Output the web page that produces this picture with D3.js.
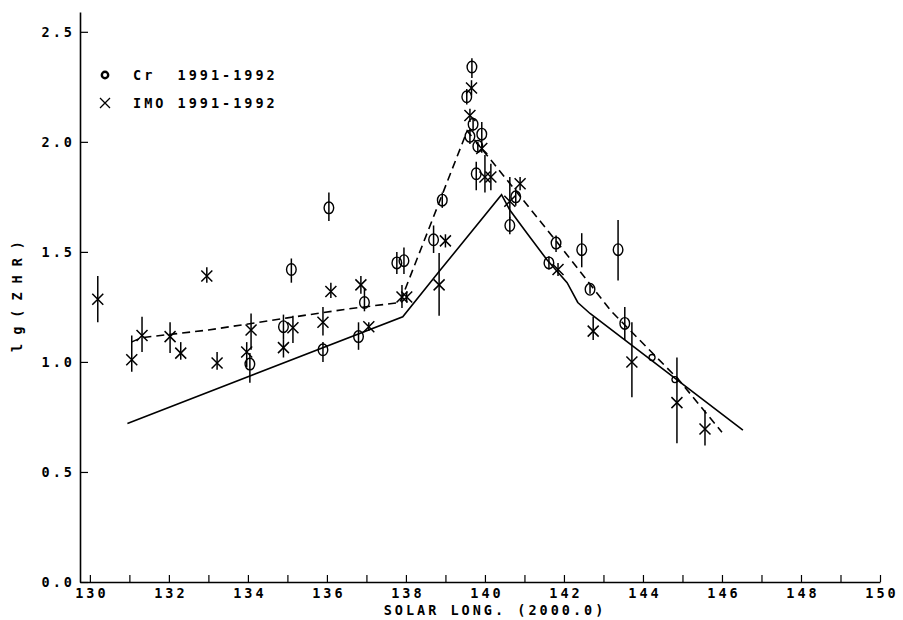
<!DOCTYPE html>
<html>
<head>
<meta charset="utf-8">
<script src="https://cdn.jsdelivr.net/npm/d3@7"></script>
<style>
  body { margin: 0; background: #fff; }
  text { font-family: "DejaVu Sans Mono", monospace; font-weight: bold; font-size: 13.5px; letter-spacing: 3px; fill: #000; white-space: pre; }
</style>
</head>
<body>
<div id="chart"></div>
<script>
// Cr 1991-1992: [solar long, lg ZHR, low, high]
const crPoints = [
  [134.05, 0.99, 0.905, 1.04], [134.9, 1.16, 1.10, 1.215], [135.1, 1.42, 1.36, 1.47],
  [135.9, 1.055, 1.0, 1.09], [136.05, 1.70, 1.64, 1.77], [136.8, 1.115, 1.055, 1.18],
  [136.95, 1.27, 1.23, 1.335], [137.77, 1.45, 1.40, 1.50], [137.95, 1.46, 1.40, 1.52],
  [138.7, 1.555, 1.495, 1.62], [138.92, 1.735, 1.70, 1.77], [139.54, 2.205, 2.17, 2.24],
  [139.67, 2.34, 2.29, 2.38], [139.62, 2.025, 1.99, 2.06], [139.7, 2.08, 2.05, 2.11],
  [139.78, 1.855, 1.78, 1.91], [139.82, 1.98, 1.95, 2.0], [139.92, 2.035, 1.98, 2.09],
  [140.63, 1.62, 1.58, 1.66], [140.78, 1.75, 1.71, 1.79], [141.62, 1.45, 1.42, 1.48],
  [141.8, 1.54, 1.50, 1.575], [142.45, 1.51, 1.43, 1.585], [142.66, 1.33, 1.31, 1.35],
  [143.37, 1.51, 1.37, 1.645], [143.54, 1.175, 1.10, 1.25]
];
// small circles without bars
const crSmall = [[144.23, 1.02], [144.81, 0.92]];

// IMO 1991-1992: [solar long, lg ZHR, low, high]
const imoPoints = [
  [130.2, 1.285, 1.18, 1.39], [131.06, 1.01, 0.955, 1.12], [131.32, 1.12, 1.045, 1.205],
  [132.03, 1.115, 1.04, 1.18], [132.3, 1.04, 1.01, 1.09], [132.96, 1.39, 1.36, 1.43],
  [133.22, 0.995, 0.965, 1.045], [133.97, 1.045, 0.975, 1.09], [134.08, 1.145, 1.055, 1.22],
  [134.9, 1.065, 1.02, 1.10], [135.14, 1.155, 1.086, 1.21], [135.9, 1.18, 1.12, 1.25],
  [136.1, 1.32, 1.29, 1.36], [136.86, 1.35, 1.31, 1.39], [137.06, 1.16, 1.14, 1.18],
  [137.9, 1.295, 1.245, 1.35], [138.02, 1.295, 1.27, 1.32], [138.84, 1.35, 1.21, 1.495],
  [139.0, 1.55, 1.52, 1.58], [139.62, 2.12, 2.09, 2.15], [139.66, 2.245, 2.21, 2.28],
  [139.92, 1.97, 1.95, 1.99], [140.0, 1.84, 1.77, 1.94], [140.15, 1.84, 1.78, 1.90],
  [140.63, 1.73, 1.65, 1.84], [140.89, 1.81, 1.78, 1.84], [141.85, 1.42, 1.39, 1.45],
  [142.74, 1.14, 1.10, 1.205], [143.72, 1.0, 0.84, 1.18], [144.86, 0.815, 0.63, 1.02],
  [145.57, 0.695, 0.62, 0.78]
];

// model curves
const solidLine = [
  [130.95, 0.72], [137.92, 1.205], [138.86, 1.415], [140.42, 1.76], [140.63, 1.69],
  [141.06, 1.586], [141.57, 1.464], [142.08, 1.36], [142.35, 1.27], [142.66, 1.22], [146.53, 0.69]
];
const dashedLine = [
  [131.05, 1.09], [131.3, 1.11], [133.0, 1.145], [135.0, 1.2], [136.5, 1.24], [137.85, 1.27],
  [139.55, 2.05], [140.5, 1.84], [141.8, 1.55], [143.2, 1.23], [144.9, 0.92], [146.0, 0.68]
];

const xTicks = d3.range(130, 151, 1);
const xLabels = d3.range(130, 151, 2);
const yTicks = [0, 0.5, 1.0, 1.5, 2.0, 2.5];

const width = 903, height = 620;
const svg = d3.select('#chart').append('svg')
  .attr('width', width).attr('height', height);

const x = d3.scaleLinear().domain([129.75, 150]).range([80, 880]);
const y = d3.scaleLinear().domain([0, 2.59]).range([582, 12]);

// axes
svg.append('g')
  .attr('transform', `translate(0,${y(0)})`)
  .call(d3.axisBottom(x).tickValues(xTicks).tickSizeInner(-7).tickSizeOuter(0)
    .tickFormat(d => xLabels.includes(d) ? d : ''))
  .call(g => g.select('.domain').attr('stroke-width', 1.6))
  .call(g => g.selectAll('.tick line').attr('stroke-width', 1.2))
  .call(g => g.selectAll('.tick text').attr('y', 16).attr('dy', null).attr('dx', '1.5px'));

svg.append('g')
  .attr('transform', `translate(${x(129.75)},0)`)
  .call(d3.axisLeft(y).tickValues(yTicks).tickSizeInner(-8).tickSizeOuter(0)
    .tickFormat(d3.format('.1f')))
  .call(g => g.select('.domain').attr('stroke-width', 1.6))
  .call(g => g.selectAll('.tick line').attr('stroke-width', 1.2))
  .call(g => g.selectAll('.tick text').attr('x', -5));
svg.selectAll('g[font-size]').attr('font-size', null).attr('font-family', null);

// axis titles
svg.append('text').attr('x', 495).attr('y', 615).attr('text-anchor', 'middle')
  .text('SOLAR LONG. (2000.0)');
svg.append('text').attr('transform', 'translate(22,292) rotate(-90)')
  .attr('text-anchor', 'middle').style('letter-spacing', '9px')
  .text('lg(ZHR)');

// lines
const line = d3.line().x(d => x(d[0])).y(d => y(d[1]));
svg.append('path').datum(solidLine).attr('d', line)
  .attr('fill', 'none').attr('stroke', '#000').attr('stroke-width', 1.6);
svg.append('path').datum(dashedLine).attr('d', line)
  .attr('fill', 'none').attr('stroke', '#000').attr('stroke-width', 1.6)
  .attr('stroke-dasharray', '8,5');

// error bars
const bars = svg.append('g').attr('stroke', '#000').attr('stroke-width', 1.5);
bars.selectAll('line.cr').data(crPoints).join('line')
  .attr('x1', d => x(d[0])).attr('x2', d => x(d[0]))
  .attr('y1', d => y(d[2])).attr('y2', d => y(d[3]));
bars.selectAll('line.imo').data(imoPoints).join('line')
  .attr('x1', d => x(d[0])).attr('x2', d => x(d[0]))
  .attr('y1', d => y(d[2])).attr('y2', d => y(d[3]));

// circles
svg.append('g').selectAll('ellipse').data(crPoints).join('ellipse')
  .attr('cx', d => x(d[0])).attr('cy', d => y(d[1]))
  .attr('rx', 4.8).attr('ry', 5.8)
  .attr('fill', 'none').attr('stroke', '#000').attr('stroke-width', 1.4);
svg.append('g').selectAll('circle').data(crSmall).join('circle')
  .attr('cx', d => x(d[0])).attr('cy', d => y(d[1])).attr('r', 3)
  .attr('fill', 'none').attr('stroke', '#000').attr('stroke-width', 1.3);

// crosses
const s = 5.5;
svg.append('g').selectAll('path').data(imoPoints).join('path')
  .attr('d', d => {
    const cx = x(d[0]), cy = y(d[1]);
    return `M${cx - s},${cy - s}L${cx + s},${cy + s}M${cx - s},${cy + s}L${cx + s},${cy - s}`;
  })
  .attr('stroke', '#000').attr('stroke-width', 1.5);

// legend
svg.append('circle').attr('cx', 105).attr('cy', 75).attr('r', 3.2)
  .attr('fill', 'none').attr('stroke', '#000').attr('stroke-width', 2.4);
svg.append('text').attr('x', 133).attr('y', 80).text('Cr  1991-1992');
svg.append('path').attr('d', 'M100,98L110,108M100,108L110,98')
  .attr('stroke', '#000').attr('stroke-width', 1.3);
svg.append('text').attr('x', 133).attr('y', 108).text('IMO 1991-1992');
</script>
</body>
</html>
